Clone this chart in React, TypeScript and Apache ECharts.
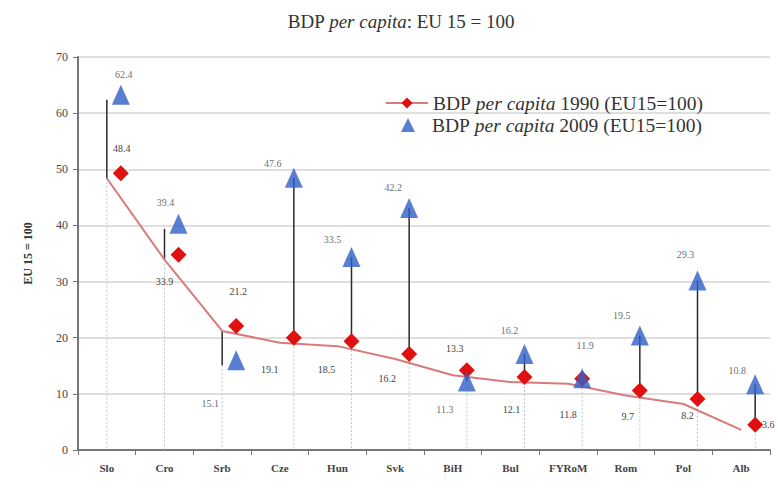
import React, { useEffect, useRef } from "react";
import * as echarts from "echarts";

const categories = ["Slo", "Cro", "Srb", "Cze", "Hun", "Svk", "BiH", "Bul", "FYRoM", "Rom", "Pol", "Alb"];
const gdp1990 = [48.4, 33.9, 21.2, 19.1, 18.5, 16.2, 13.3, 12.1, 11.8, 9.7, 8.2, 3.6];
const gdp2009 = [62.4, 39.4, 15.1, 47.6, 33.5, 42.2, 11.3, 16.2, 11.9, 19.5, 29.3, 10.8];
const yTicks = [0, 10, 20, 30, 40, 50, 60, 70];

// style only: marker shift, connector shift and label offsets (pixels)
const MARK_SHIFT = [14, -5];
const connectorAtMarker = [false, false, false, true, true, true, true, true, true, true, true, true];
const off1990: number[][] = [
  [1, -25], [-14, 27], [2, -34], [-24, 32], [-25, 28], [-22, 24],
  [-12, -22], [-13, 32], [-14, 36], [-12, 26], [-10, 17], [13, 0],
];
const off2009: number[][] = [
  [3, -20], [-13, -21], [-26, 43], [-21, -14], [-19, -17], [-16, -21],
  [-22, 28], [-15, -24], [3, -33], [-18, -20], [-12, -26], [-18, -14],
];

const SERIF = "'Liberation Serif', 'DejaVu Serif', serif";
const NAME1990 = "BDP per capita 1990 (EU15=100)";
const NAME2009 = "BDP per capita 2009 (EU15=100)";

export default function App() {
  const ref = useRef<HTMLDivElement>(null);
  useEffect(() => {
    if (!ref.current) return;
    const chart = echarts.init(ref.current, undefined, { renderer: "svg" });
    const rangeData = categories.map((_, i) => [i, gdp1990[i], gdp2009[i]]);
    const labelStyle = { color: "#444", fontFamily: SERIF, fontSize: 10 };
    const LF = 19.5;
    const legendRich = {
      i: { fontFamily: SERIF, fontSize: LF, fontStyle: "italic", color: "#333" },
      s: { width: 12 },
    };
    const legendText = { fontFamily: SERIF, fontSize: LF, color: "#333", rich: legendRich };
    const shiftFor = (i: number) => (connectorAtMarker[i] ? MARK_SHIFT : [0, 0]);
    chart.setOption({
      animation: false,
      backgroundColor: "#fff",
      title: {
        text: "BDP {i|per capita}: EU 15 = 100",
        left: 396,
        textAlign: "center",
        top: 7,
        textStyle: {
          fontFamily: SERIF,
          fontSize: 19,
          fontWeight: "normal",
          color: "#333",
          rich: { i: { fontFamily: SERIF, fontSize: 19, fontStyle: "italic", color: "#333" } },
        },
      },
      legend: [
        {
          data: [NAME1990],
          left: 380,
          top: 88,
          itemWidth: 42,
          itemHeight: 14,
          formatter: (n: string) => n.replace("per capita", "{i|per capita}"),
          textStyle: legendText,
        },
        {
          data: [NAME2009],
          left: 396,
          top: 110,
          itemWidth: 14,
          itemHeight: 14,
          formatter: (n: string) => "{s|}" + n.replace("per capita", "{i|per capita}"),
          textStyle: legendText,
        },
      ],
      grid: { left: 78, right: 8, top: 57, bottom: 38 },
      xAxis: {
        type: "category",
        data: categories,
        boundaryGap: true,
        axisLine: { lineStyle: { color: "#777", width: 2 } },
        axisTick: { show: true, length: 5, lineStyle: { color: "#777" } },
        axisLabel: { fontFamily: SERIF, fontSize: 11, fontWeight: "bold", color: "#444", margin: 12 },
      },
      yAxis: {
        type: "value",
        min: yTicks[0],
        max: yTicks[yTicks.length - 1],
        interval: 10,
        name: "EU 15 = 100",
        nameLocation: "middle",
        nameRotate: 90,
        nameGap: 44,
        nameTextStyle: { fontFamily: SERIF, fontSize: 12, fontWeight: "bold", color: "#333" },
        axisLine: { show: true, lineStyle: { color: "#777", width: 2 } },
        axisTick: { show: true, length: 5, lineStyle: { color: "#777" } },
        axisLabel: { fontFamily: SERIF, fontSize: 12, color: "#444", margin: 10 },
        splitLine: { lineStyle: { color: "#d4d4d4", width: 1.5 } },
      },
      series: [
        {
          type: "custom",
          name: "drop",
          silent: true,
          z: 1,
          data: rangeData,
          encode: { x: 0, y: [1, 2] },
          renderItem: (params: any, api: any) => {
            const i = api.value(0);
            const s = shiftFor(params.dataIndex);
            const lo = Math.min(api.value(1), api.value(2));
            const p1 = api.coord([i, lo]);
            const p0 = api.coord([i, 0]);
            return {
              type: "line",
              shape: { x1: p1[0] + s[0], y1: p1[1], x2: p0[0] + s[0], y2: p0[1] },
              style: { stroke: "#c4c4c4", lineWidth: 1, lineDash: [2, 2] },
            };
          },
        },
        {
          type: "custom",
          name: "range",
          silent: true,
          z: 2,
          data: rangeData,
          encode: { x: 0, y: [1, 2] },
          renderItem: (params: any, api: any) => {
            const i = api.value(0);
            const s = shiftFor(params.dataIndex);
            const a = api.coord([i, api.value(1)]);
            const b = api.coord([i, api.value(2)]);
            return {
              type: "line",
              shape: { x1: a[0] + s[0], y1: a[1] + s[1], x2: b[0] + s[0], y2: b[1] + s[1] },
              style: { stroke: "#2a2a2a", lineWidth: 1.5 },
            };
          },
        },
        {
          type: "line",
          name: NAME1990,
          z: 3,
          data: gdp1990.map((v, i) => ({
            value: v,
            label: { offset: off1990[i] },
          })),
          symbol: "diamond",
          symbolSize: 16,
          symbolOffset: MARK_SHIFT,
          lineStyle: { color: "#d97a7a", width: 2 },
          itemStyle: { color: "#e01010" },
          label: { show: true, position: "inside", ...labelStyle },
        },
        {
          type: "scatter",
          name: NAME2009,
          z: 4,
          data: gdp2009.map((v, i) => ({
            value: v,
            label: { offset: off2009[i] },
          })),
          symbol: "triangle",
          symbolSize: [18, 20],
          symbolOffset: MARK_SHIFT,
          itemStyle: { color: "#2f5fc8" },
          label: { show: true, position: "inside", ...labelStyle },
        },
      ],
    });
    return () => chart.dispose();
  }, []);
  return (
    <div
      ref={ref}
      style={{ position: "absolute", left: 0, top: 0, width: 778, height: 488 }}
    />
  );
}
